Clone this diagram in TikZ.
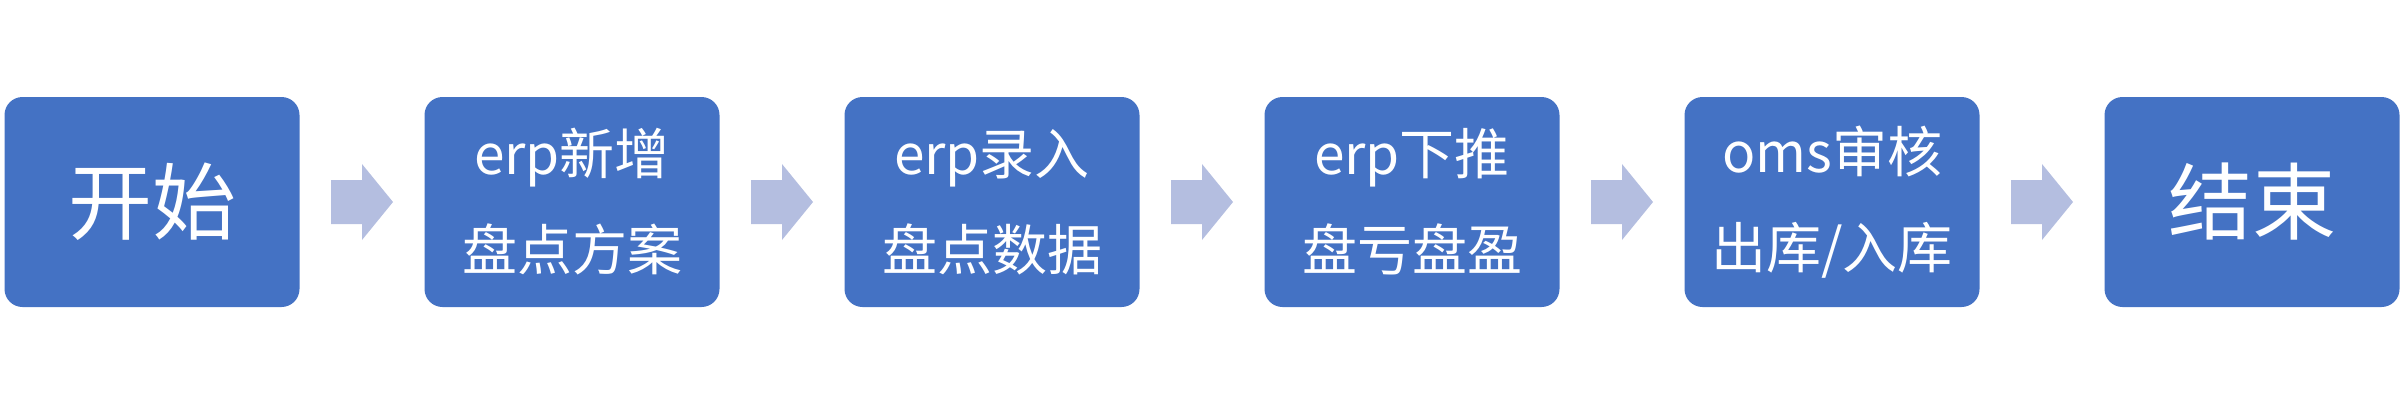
\documentclass[tikz,border=0pt]{standalone}
\usepackage{fontspec}
\setmainfont{Noto Sans CJK SC}
\begin{document}
\begin{tikzpicture}[x=1pt,y=-1pt,
  box/.style={fill=boxblue,rounded corners=18pt,minimum width=295pt,minimum height=210pt,inner sep=0pt,text=white,align=center},
  big/.style={font=\fontsize{84}{90}\selectfont},
  two/.style={font=\fontsize{55}{96}\selectfont},
  arr/.style={fill=arrblue}]
\definecolor{boxblue}{HTML}{4472C4}
\definecolor{arrblue}{HTML}{B4BEE0}
\useasboundingbox (0,0) rectangle (2403,400);
\node[box,big] (b1) at (152,202) {开始};
\node[box,two] (b2) at (572,202) {erp新增\\盘点方案};
\node[box,two] (b3) at (992,202) {erp录入\\盘点数据};
\node[box,two] (b4) at (1412,202) {erp下推\\盘亏盘盈};
\node[box,two] (b5) at (1832,202) {oms审核\\出库/入库};
\node[box,big] (b6) at (2252,202) {结束};
\foreach \a/\b in {b1/b2,b2/b3,b3/b4,b4/b5,b5/b6}{
  \path (\a.east) -- (\b.west) coordinate[pos=0.5] (m);
  \fill[arr] ([xshift=-31pt,yshift=-22pt]m) -- ([xshift=0pt,yshift=-22pt]m) -- ([xshift=0pt,yshift=-38pt]m)
    -- ([xshift=31pt]m) -- ([xshift=0pt,yshift=38pt]m) -- ([xshift=0pt,yshift=22pt]m) -- ([xshift=-31pt,yshift=22pt]m) -- cycle;
}
\end{tikzpicture}
\end{document}
